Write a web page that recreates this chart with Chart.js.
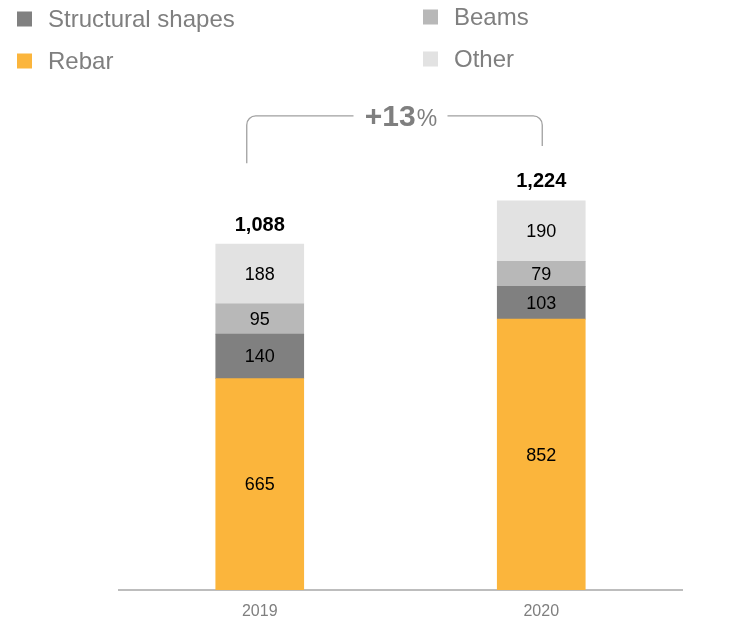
<!DOCTYPE html>
<html>
<head>
<meta charset="utf-8">
<script src="https://cdn.jsdelivr.net/npm/chart.js@4.4.1/dist/chart.umd.min.js"></script>
<style>
  html, body { margin: 0; padding: 0; background: #ffffff; }
  #wrap { width: 748px; height: 622px; position: relative; }
</style>
</head>
<body>
<div id="wrap"><canvas id="chart" width="748" height="622"></canvas></div>
<script>
// Shipments by product, thousand tonnes
const years = ['2019', '2020'];
const rebar = [665, 852];
const structuralShapes = [140, 103];
const beams = [95, 79];
const other = [188, 190];

const seriesNames = ['Rebar', 'Structural shapes', 'Beams', 'Other'];
const seriesColors = ['#FBB53C', '#808080', '#B8B8B8', '#E2E2E2'];

const totals = years.map((_, i) => rebar[i] + structuralShapes[i] + beams[i] + other[i]);
const growthPct = Math.round((totals[1] / totals[0] - 1) * 100);

const FONT = '"Liberation Sans", Arial, Helvetica, sans-serif';
const GREY_TEXT = '#7F7F7F';

function fmt(n) { return n.toLocaleString('en-US'); }

// Legend drawn in two columns at the top of the canvas
const legendPlugin = {
  id: 'twoColumnLegend',
  afterDraw(chart) {
    const ctx = chart.ctx;
    const items = [
      { name: 'Structural shapes', color: seriesColors[1], x: 17, y: 19 },
      { name: 'Rebar', color: seriesColors[0], x: 17, y: 61 },
      { name: 'Beams', color: seriesColors[2], x: 423, y: 17 },
      { name: 'Other', color: seriesColors[3], x: 423, y: 59 }
    ];
    ctx.save();
    ctx.font = '24px ' + FONT;
    ctx.textBaseline = 'middle';
    ctx.textAlign = 'left';
    items.forEach(it => {
      ctx.fillStyle = it.color;
      ctx.fillRect(it.x, it.y - 7.5, 15, 15);
      ctx.fillStyle = GREY_TEXT;
      ctx.fillText(it.name, it.x + 31, it.y + 1);
    });
    ctx.restore();
  }
};

// Segment values, stack totals and the growth bracket
const labelsPlugin = {
  id: 'barLabels',
  afterDatasetsDraw(chart) {
    const ctx = chart.ctx;
    ctx.save();
    ctx.textAlign = 'center';
    ctx.textBaseline = 'middle';
    ctx.font = '18px ' + FONT;
    ctx.fillStyle = '#000000';
    chart.data.datasets.forEach((ds, di) => {
      const meta = chart.getDatasetMeta(di);
      meta.data.forEach((bar, i) => {
        ctx.fillText(String(ds.data[i]), bar.x, (bar.y + bar.base) / 2 + 1);
      });
    });

    const yScale = chart.scales.y;
    const xScale = chart.scales.x;
    const tops = totals.map(t => yScale.getPixelForValue(t));
    ctx.font = 'bold 20px ' + FONT;
    totals.forEach((t, i) => {
      ctx.fillText(fmt(t), xScale.getPixelForValue(i), tops[i] - 19);
    });

    // Bracket joining the two totals
    const xL = xScale.getPixelForValue(0) - 13;
    const xR = xScale.getPixelForValue(1) + 1;
    const yTop = tops[1] - 85;
    const yBL = tops[0] - 81;
    const yBR = tops[1] - 55;
    const r = 9;
    const midX = (xL + xR) / 2 + 6;
    const gapHalf = 47;
    ctx.strokeStyle = '#A0A0A0';
    ctx.lineWidth = 1.3;
    ctx.beginPath();
    ctx.moveTo(xL, yBL);
    ctx.lineTo(xL, yTop + r);
    ctx.arcTo(xL, yTop, xL + r, yTop, r);
    ctx.lineTo(midX - gapHalf, yTop);
    ctx.stroke();
    ctx.beginPath();
    ctx.moveTo(midX + gapHalf, yTop);
    ctx.lineTo(xR - r, yTop);
    ctx.arcTo(xR, yTop, xR, yTop + r, r);
    ctx.lineTo(xR, yBR);
    ctx.stroke();

    // Growth label, e.g. "+13%"
    const big = '+' + growthPct;
    ctx.font = 'bold 30px ' + FONT;
    const wBig = ctx.measureText(big).width;
    ctx.font = '23px ' + FONT;
    const wPct = ctx.measureText('%').width;
    const startX = midX - (wBig + wPct) / 2;
    ctx.fillStyle = GREY_TEXT;
    ctx.textAlign = 'left';
    ctx.textBaseline = 'alphabetic';
    ctx.font = 'bold 30px ' + FONT;
    ctx.fillText(big, startX, yTop + 10);
    ctx.font = '23px ' + FONT;
    ctx.fillText('%', startX + wBig + 1, yTop + 10);
    ctx.restore();
  }
};

const datasets = [rebar, structuralShapes, beams, other].map((vals, i) => ({
  label: seriesNames[i],
  data: vals,
  backgroundColor: seriesColors[i],
  borderWidth: 0,
  barThickness: 88
}));

new Chart(document.getElementById('chart'), {
  type: 'bar',
  data: { labels: years, datasets },
  options: {
    responsive: false,
    animation: false,
    events: [],
    layout: { padding: { left: 119, right: 66, top: 145, bottom: 0 } },
    plugins: {
      legend: { display: false },
      tooltip: { enabled: false }
    },
    scales: {
      x: {
        stacked: true,
        grid: { display: false, drawTicks: false },
        border: { display: true, color: '#BDBDBD', width: 2 },
        ticks: { color: GREY_TEXT, font: { family: FONT, size: 16 }, padding: 12 },
        afterFit(scale) { scale.height = 32; }
      },
      y: {
        stacked: true,
        display: false,
        min: 0,
        max: 1400
      }
    }
  },
  plugins: [legendPlugin, labelsPlugin]
});
</script>
</body>
</html>
